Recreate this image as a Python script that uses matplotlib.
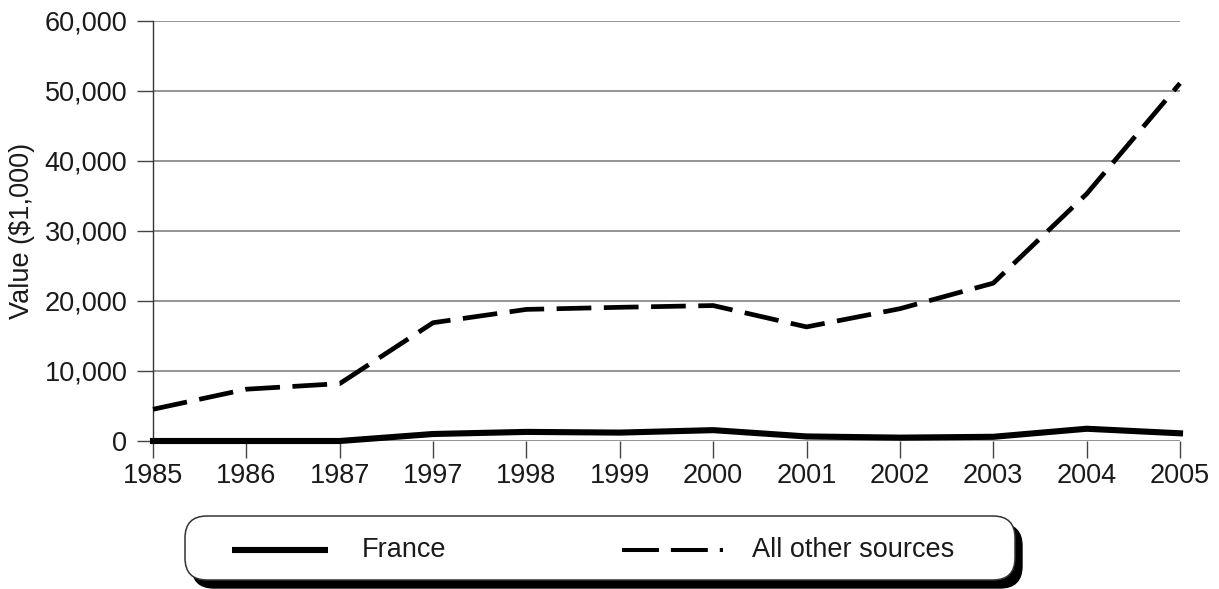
import matplotlib
matplotlib.use("Agg")
import matplotlib.pyplot as plt
from matplotlib.patches import FancyBboxPatch
from matplotlib.ticker import FuncFormatter

years = ["1985", "1986", "1987", "1997", "1998", "1999", "2000",
         "2001", "2002", "2003", "2004", "2005"]
france = [0, 0, 0, 1000, 1300, 1200, 1550, 650, 480, 600, 1750, 1100]
other_sources = [4530, 7400, 8200, 16900, 18800, 19100, 19350, 16300,
                 18900, 22550, 35300, 51100]
series_labels = ["France", "All other sources"]

plt.rcParams["font.family"] = ["Liberation Sans", "DejaVu Sans"]
plt.rcParams["lines.scale_dashes"] = False

W, H = 1219, 589
fig = plt.figure(figsize=(W / 100, H / 100), dpi=100)
ax = fig.add_axes([153 / W, 1 - 441 / H, (1180 - 153) / W, (441 - 21) / H])

x = list(range(len(years)))
solid_lw = 4.4
dash_lw = 3.4
dash_style = (0, (25, 9))
text_size = 19.5
text_color = "#1a1a1a"

ax.plot(x, france, color="black", lw=solid_lw, solid_joinstyle="round",
        clip_on=False, zorder=4)
ax.plot(x, other_sources, color="black", lw=dash_lw, linestyle=dash_style,
        dash_capstyle="butt", clip_on=False, zorder=4)

ax.set_xlim(0, len(years) - 1)
ax.set_ylim(0, 60000)
ax.set_yticks(range(0, 60001, 10000))
ax.yaxis.set_major_formatter(FuncFormatter(lambda v, p: f"{int(v):,}"))
ax.set_xticks(x)
ax.set_xticklabels(years)

for s in ["top", "right", "bottom"]:
    ax.spines[s].set_visible(False)
ax.spines["left"].set_color("#333333")
ax.spines["left"].set_linewidth(1.0)

ax.yaxis.grid(True, color="#777777", lw=1.1)
ax.set_axisbelow(True)
ax.tick_params(axis="y", length=11.5, width=1.0, color="#444444",
               labelsize=text_size, pad=7, labelcolor=text_color)
ax.tick_params(axis="x", length=12, width=1.0, color="#444444",
               labelsize=text_size, pad=4, labelcolor=text_color)
ax.set_ylabel("Value ($1,000)", fontsize=text_size, color=text_color,
              labelpad=7)

# legend panel, laid out in pixel units on a full-figure overlay
lg = fig.add_axes([0, 0, 1, 1], zorder=5)
lg.set_xlim(0, W)
lg.set_ylim(H, 0)
lg.set_axis_off()
lg.patch.set_visible(False)

bx0, by0, bx1, by1 = 185, 516, 1015, 580
radius = 22
lg.add_patch(FancyBboxPatch((bx0 + 7, by0 + 8), bx1 - bx0, by1 - by0,
                            boxstyle=f"round,pad=0,rounding_size={radius}",
                            facecolor="black", edgecolor="black", lw=1))
lg.add_patch(FancyBboxPatch((bx0, by0), bx1 - bx0, by1 - by0,
                            boxstyle=f"round,pad=0,rounding_size={radius}",
                            facecolor="white", edgecolor="#333333", lw=1.1))

ly = 550
lg.plot([232, 328], [ly, ly], color="black", lw=solid_lw,
        solid_capstyle="butt")
lg.plot([622, 723], [ly, ly], color="black", lw=2.9,
        linestyle=(0, (26.6, 8.6)), dash_capstyle="butt")
lg.text(362, ly, series_labels[0], fontsize=text_size, va="center",
        ha="left", color=text_color)
lg.text(752, ly, series_labels[1], fontsize=text_size, va="center",
        ha="left", color=text_color)

fig.savefig("out.png", dpi=100, facecolor="white")
